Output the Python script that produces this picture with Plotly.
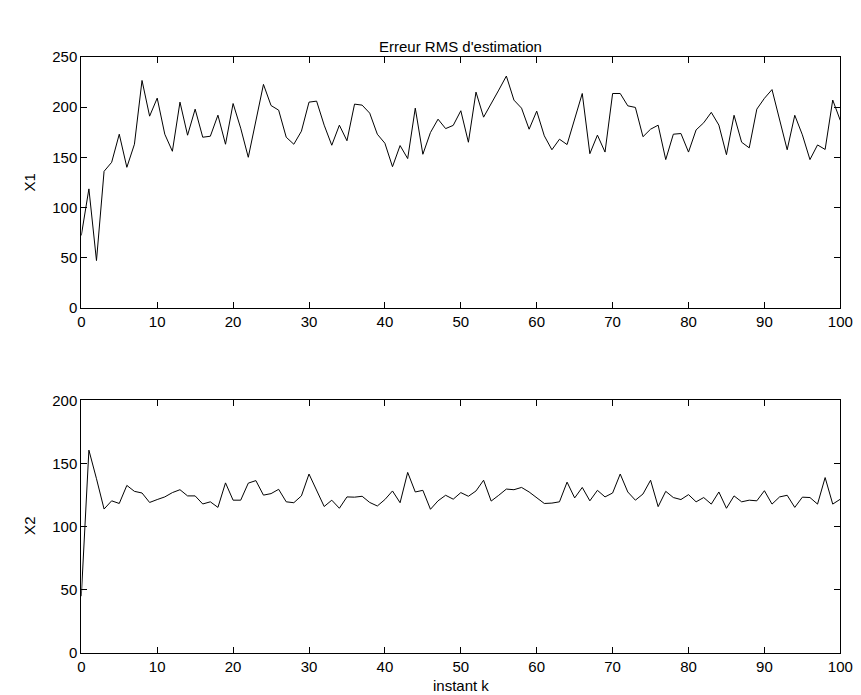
import plotly.graph_objects as go

k = list(range(0, 101))

x1_rms = [72, 118.5, 47, 136, 145, 173, 140, 163, 226.6, 191,
          209, 173, 156, 205, 172, 198, 170, 171, 192, 163,
          203.6, 179, 150, 185, 222.7, 201.6, 197, 170, 163, 176,
          205, 206, 182, 162, 182, 166.5, 203, 202, 194, 173,
          164, 140.6, 161.7, 148.7, 199, 153, 174.7, 188, 178.6, 181.8,
          196.4, 165, 215, 190, 203, 217, 231, 207, 199, 178,
          196, 171.4, 157.5, 168, 162.7, 187.7, 213.6, 153.6, 172.1, 155.2,
          213.6, 213.6, 201.3, 199.7, 170.5, 178, 182, 147.7, 173, 173.7,
          155.2, 177.3, 184.4, 194.8, 182.1, 152.6, 191.9, 165, 159.4, 198,
          208.8, 217.5, 187.7, 157.5, 191.9, 172.4, 147.7, 162.3, 157.8, 207.1,
          186.7]

x2_rms = [45, 160.6, 138, 114, 120.5, 118.4, 132.7, 128, 126.7, 119.2,
          121.5, 123.6, 127, 129.3, 124.4, 124.4, 118, 119.7, 115.3, 134.7,
          121, 121, 134.5, 136.5, 125, 126.2, 129.6, 119.7, 119, 124.4,
          141.7, 128.8, 116, 121, 114.6, 123.6, 123.4, 124.1, 119.2, 116.4,
          121.5, 128.3, 119, 143, 127.5, 128.8, 113.8, 120.5, 124.9, 121.8,
          127, 124.1, 128.3, 136.8, 120.3, 124.9, 129.8, 129.3, 131.1, 127.5,
          123.1, 118.4, 118.7, 119.7, 135.3, 122.8, 131.1, 120.5, 128.8, 123.6,
          126.7, 141.7, 127.5, 121, 125.9, 136.8, 115.9, 128, 123.1, 121.5,
          125.4, 119.7, 123.1, 117.9, 127.5, 114.6, 124.4, 119.7, 121, 120.5,
          128.5, 117.9, 123.6, 124.9, 115.3, 123.4, 123.1, 117.9, 138.9, 117.9,
          121.8]

x_ticks = [0, 10, 20, 30, 40, 50, 60, 70, 80, 90, 100]
y1_ticks = [0, 50, 100, 150, 200, 250]
y2_ticks = [0, 50, 100, 150, 200]

W, H = 861, 695
FONT = "Liberation Sans, Arial, Helvetica, sans-serif"
FS = 15

def px_x(p):
    return p / W

def px_y(p):
    return 1 - p / H

fig = go.Figure()
fig.add_trace(go.Scatter(x=k, y=x1_rms, mode="lines",
                         line=dict(color="black", width=1),
                         xaxis="x", yaxis="y", showlegend=False))
fig.add_trace(go.Scatter(x=k, y=x2_rms, mode="lines",
                         line=dict(color="black", width=1),
                         xaxis="x2", yaxis="y2", showlegend=False))

axis_common = dict(showline=True, linecolor="black", linewidth=1,
                   mirror="ticks", ticks="inside", ticklen=6,
                   tickcolor="black", tickwidth=1, showgrid=False,
                   zeroline=False,
                   tickfont=dict(family=FONT, size=FS, color="black"))

xdom = [px_x(70.7), px_x(845)]

fig.update_layout(
    width=W, height=H,
    margin=dict(l=0, r=0, t=0, b=0),
    paper_bgcolor="white", plot_bgcolor="white",
    xaxis=dict(domain=xdom, range=[0, 100], tickvals=x_ticks,
               anchor="y", **axis_common),
    yaxis=dict(domain=[px_y(298), px_y(41)], range=[0, 250],
               tickvals=y1_ticks, anchor="x", **axis_common),
    xaxis2=dict(domain=xdom, range=[0, 100], tickvals=x_ticks,
                anchor="y2", **axis_common),
    yaxis2=dict(domain=[px_y(652), px_y(393)], range=[0, 200],
                tickvals=y2_ticks, anchor="x2", **axis_common),
    annotations=[
        dict(text="Erreur RMS d'estimation", xref="paper", yref="paper",
             x=px_x(458), y=px_y(30), xanchor="center", yanchor="middle",
             showarrow=False, font=dict(family=FONT, size=FS, color="black")),
        dict(text="X1", xref="paper", yref="paper",
             x=px_x(18), y=px_y(170), xanchor="center", yanchor="middle",
             textangle=-90, showarrow=False,
             font=dict(family=FONT, size=FS, color="black")),
        dict(text="X2", xref="paper", yref="paper",
             x=px_x(18), y=px_y(522), xanchor="center", yanchor="middle",
             textangle=-90, showarrow=False,
             font=dict(family=FONT, size=FS, color="black")),
        dict(text="instant k", xref="paper", yref="paper",
             x=px_x(458), y=px_y(685), xanchor="center", yanchor="middle",
             showarrow=False, font=dict(family=FONT, size=FS, color="black")),
    ],
)

fig.write_html("out.html")
